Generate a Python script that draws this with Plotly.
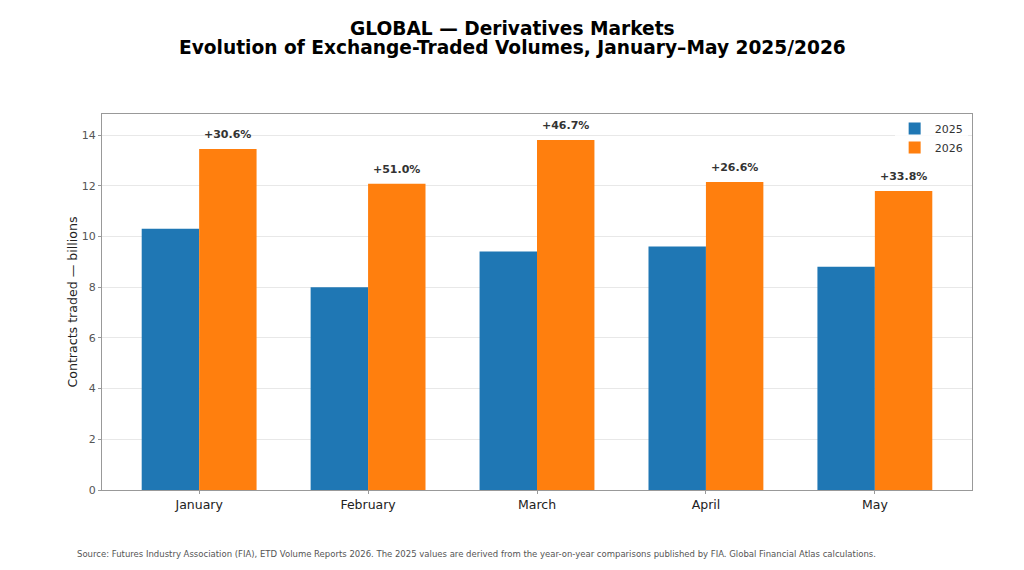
import plotly.graph_objects as go

months = ["January", "February", "March", "April", "May"]
vol_2025 = [10.30, 8.00, 9.41, 9.60, 8.81]
vol_2026 = [13.45, 12.08, 13.80, 12.15, 11.79]
growth = ["+30.6%", "+51.0%", "+46.7%", "+26.6%", "+33.8%"]
yticks = [0, 2, 4, 6, 8, 10, 12, 14]

FONT = "DejaVu Sans"
w = 0.34
xs = list(range(len(months)))

fig = go.Figure()
fig.add_trace(go.Bar(x=[i - w / 2 for i in xs], y=vol_2025, width=w, name="2025",
                     marker=dict(color="#1f77b4", line=dict(width=0))))
fig.add_trace(go.Bar(x=[i + w / 2 for i in xs], y=vol_2026, width=w, name="2026",
                     marker=dict(color="#ff7f0e", line=dict(width=0))))

# growth labels above the 2026 bars
for i, v, g in zip(xs, vol_2026, growth):
    fig.add_annotation(x=i + w / 2, y=v, text="<b>" + g + "</b>", showarrow=False,
                       yanchor="bottom", yshift=6,
                       font=dict(family=FONT, size=11, color="#333333"))

# two-line title, tighter than plotly's own line spacing, centred on the page
for txt, dy in [("GLOBAL — Derivatives Markets", 86),
                ("Evolution of Exchange-Traded Volumes, January–May 2025/2026", 67)]:
    fig.add_annotation(x=0.5, y=1, xref="paper", yref="paper", yanchor="middle",
                       xshift=-25, yshift=dy, showarrow=False, text="<b>" + txt + "</b>",
                       font=dict(family=FONT, size=18.6, color="black"))

fig.add_annotation(x=0, y=0, xref="paper", yref="paper", xanchor="left", yanchor="top",
                   xshift=-27, yshift=-57, showarrow=False,
                   text="Source: Futures Industry Association (FIA), ETD Volume Reports 2026. "
                        "The 2025 values are derived from the year-on-year comparisons published by FIA. "
                        "Global Financial Atlas calculations.",
                   font=dict(family=FONT, size=8.5, color="#555555"))

fig.update_layout(
    width=1024, height=570,
    margin=dict(l=94, r=60, t=106, b=88),
    paper_bgcolor="white", plot_bgcolor="white",
    font=dict(family=FONT),
    barmode="overlay",
    showlegend=True,
    legend=dict(x=0.995, y=1.0, xanchor="right", yanchor="top",
                bgcolor="rgba(255,255,255,0.8)", font=dict(family=FONT, size=11, color="#333333"),
                itemwidth=30, tracegroupgap=0),
    xaxis=dict(range=[-0.575, 4.575], tickvals=xs, ticktext=months,
               tickfont=dict(family=FONT, size=12.5, color="#222222"),
               showgrid=False, zeroline=False, showline=True, linecolor="#999999",
               linewidth=1.2, mirror=True, ticks="outside", ticklen=3, tickcolor="#999999"),
    yaxis=dict(range=[0, 14.83], tickvals=yticks,
               tickfont=dict(family=FONT, size=11, color="#555555"),
               title=dict(text="Contracts traded — billions", font=dict(family=FONT, size=12.6, color="#222222"),
                          standoff=1),
               showgrid=True, gridcolor="#e8e8e8", gridwidth=1, zeroline=False,
               showline=True, linecolor="#999999", linewidth=1.2, mirror=True,
               ticks="outside", ticklen=3, tickcolor="#999999"),
)

fig.write_html("out.html")
